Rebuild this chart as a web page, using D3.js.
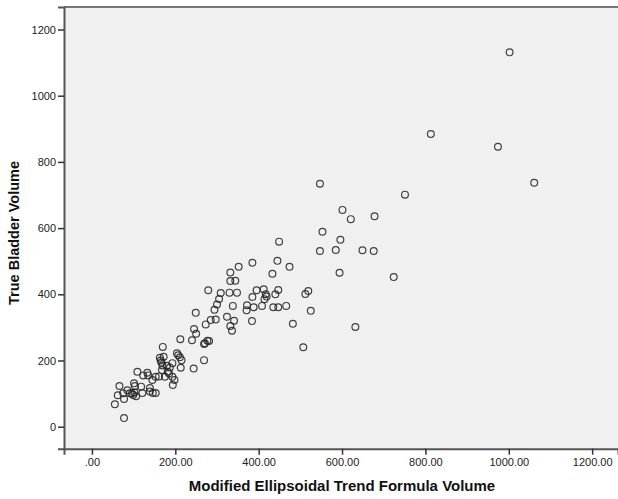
<!DOCTYPE html>
<html>
<head>
<meta charset="utf-8">
<script src="https://cdn.jsdelivr.net/npm/d3@7"></script>
<style>
  body { margin: 0; background: #fff; }
  svg { display: block; font-family: Arial, "Liberation Sans", sans-serif; }
</style>
</head>
<body>
<div id="chart"></div>
<script>
// data: [ellipsoid formula volume, true bladder volume]
var xTicks = [0, 200, 400, 600, 800, 1000, 1200]
var yTicks = [0, 200, 400, 600, 800, 1000, 1200]
var xTitle = "Modified Ellipsoidal Trend Formula Volume"
var yTitle = "True Bladder Volume"

var points = [
  [1002, 1131], [974, 846], [1061, 737], [813, 884], [547, 734], [751, 701],
  [601, 655], [621, 627], [678, 636], [553, 589], [596, 565], [547, 531],
  [585, 534], [649, 533], [676, 531], [594, 465], [724, 452], [519, 410],
  [512, 401], [525, 350], [632, 301], [507, 240], [449, 559], [445, 501],
  [385, 495], [474, 483], [352, 483], [332, 466], [433, 462], [332, 440],
  [344, 441], [309, 404], [330, 405], [348, 405], [395, 412], [412, 415],
  [417, 400], [419, 393], [447, 413], [440, 400], [385, 392], [414, 385],
  [305, 386], [279, 412], [300, 369], [294, 353], [338, 365], [372, 367],
  [371, 352], [388, 361], [408, 365], [435, 361], [447, 361], [466, 365],
  [249, 344], [324, 332], [341, 320], [332, 304], [336, 290], [384, 319],
  [482, 311], [297, 324], [285, 322], [273, 309], [245, 295], [250, 281],
  [212, 264], [240, 261], [277, 260], [281, 259], [271, 252], [269, 250],
  [170, 241], [269, 201], [244, 176], [213, 178], [204, 222], [207, 216],
  [211, 210], [215, 201], [163, 208], [165, 200], [167, 194], [169, 185],
  [172, 211], [193, 192], [187, 179], [182, 166], [185, 161], [193, 151],
  [198, 141], [194, 126], [168, 171], [175, 151], [161, 152], [153, 151],
  [145, 141], [133, 163], [123, 155], [109, 166], [139, 117], [139, 106],
  [153, 102], [118, 121], [121, 102], [101, 131], [103, 123], [106, 92],
  [91, 101], [96, 100], [99, 96], [102, 103], [85, 110], [66, 123],
  [75, 101], [77, 84], [62, 95], [55, 68], [77, 26], [180, 184],
  [146, 102], [135, 155]
]

function draw() {
  var width = 618, height = 499
  var pLeft = 64, pRight = 618, pTop = 7, pBottom = 448.7

  var svg = d3.select("#chart").append("svg")
    .attr("width", width)
    .attr("height", height)

  var x = d3.scaleLinear().domain([-67, 1262]).range([pLeft, pRight])
  var y = d3.scaleLinear().domain([-66.5, 1268]).range([pBottom, pTop])

  // plot background
  svg.append("rect")
    .attr("x", pLeft).attr("y", pTop)
    .attr("width", pRight - pLeft + 4).attr("height", pBottom - pTop)
    .attr("fill", "#f0f0f0")

  // top frame line
  svg.append("line")
    .attr("x1", pLeft).attr("x2", width)
    .attr("y1", pTop).attr("y2", pTop)
    .attr("stroke", "#777").attr("stroke-width", 2)

  svg.append("g")
    .attr("transform", "translate(0," + pBottom + ")")
    .call(d3.axisBottom(x).tickValues(xTicks).tickSizeOuter(0).tickSize(6).tickPadding(4)
      .tickFormat(function(d) { return d === 0 ? ".00" : d.toFixed(2) }))

  svg.append("g")
    .attr("transform", "translate(" + pLeft + ",0)")
    .call(d3.axisLeft(y).tickValues(yTicks).tickSizeOuter(0).tickSize(6).tickPadding(2)
      .tickFormat(d3.format("d")))

  svg.selectAll(".domain").attr("stroke", "#555").attr("stroke-width", 2)
  svg.selectAll(".tick line").attr("stroke", "#333").attr("stroke-width", 1.5)
  svg.selectAll(".tick text")
    .attr("fill", "#222")
    .style("font-size", "11px")
    .style("font-family", "Arial, 'Liberation Sans', sans-serif")

  // points
  svg.append("g")
    .selectAll("circle")
    .data(points)
    .enter()
    .append("circle")
    .attr("cx", function(d) { return x(d[0]) })
    .attr("cy", function(d) { return y(d[1]) })
    .attr("r", 3.4)
    .attr("fill", "none")
    .attr("stroke", "#222")
    .attr("stroke-opacity", 0.85)
    .attr("stroke-width", 1.2)

  // axis titles
  svg.append("text")
    .attr("x", 342)
    .attr("y", 491)
    .attr("text-anchor", "middle")
    .style("font-size", "15px")
    .style("font-weight", "bold")
    .attr("fill", "#111")
    .text(xTitle)

  svg.append("text")
    .attr("transform", "translate(18.5,233) rotate(-90)")
    .attr("text-anchor", "middle")
    .style("font-size", "14.5px")
    .style("font-weight", "bold")
    .attr("fill", "#111")
    .text(yTitle)
}

draw()
</script>
</body>
</html>
